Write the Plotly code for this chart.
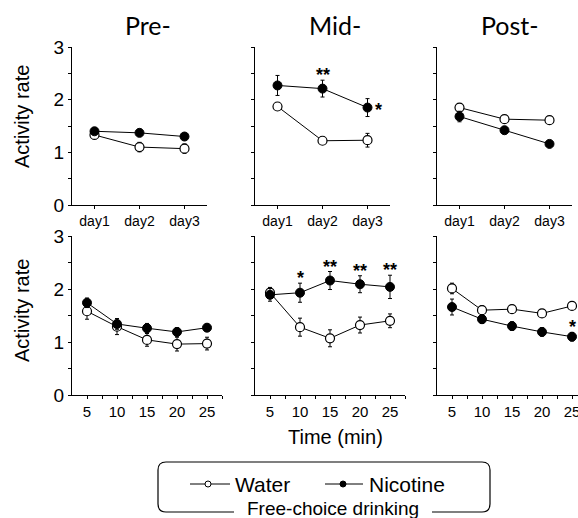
import plotly.graph_objects as go

# ---------------- data ----------------
days = ["day1", "day2", "day3"]
times = [5, 10, 15, 20, 25]

# top row (by day)
pre_day_water = [1.33, 1.10, 1.07]
pre_day_water_err = [0.08, 0.09, 0.09]
pre_day_nic = [1.40, 1.37, 1.30]
pre_day_nic_err = [0.06, 0.05, 0.05]

mid_day_water = [1.87, 1.22, 1.23]
mid_day_water_err = [0.06, 0.05, 0.13]
mid_day_nic = [2.27, 2.21, 1.85]
mid_day_nic_err = [0.19, 0.16, 0.17]

post_day_water = [1.85, 1.63, 1.61]
post_day_water_err = [0.07, 0.05, 0.05]
post_day_nic = [1.68, 1.42, 1.16]
post_day_nic_err = [0.10, 0.05, 0.05]

# bottom row (by time)
pre_time_water = [1.58, 1.29, 1.04, 0.96, 0.97]
pre_time_water_err = [0.15, 0.15, 0.12, 0.13, 0.12]
pre_time_nic = [1.74, 1.34, 1.26, 1.19, 1.27]
pre_time_nic_err = [0.09, 0.10, 0.09, 0.08, 0.07]

mid_time_water = [1.93, 1.28, 1.07, 1.32, 1.40]
mid_time_water_err = [0.10, 0.17, 0.16, 0.15, 0.13]
mid_time_nic = [1.89, 1.93, 2.16, 2.09, 2.04]
mid_time_nic_err = [0.12, 0.18, 0.17, 0.16, 0.22]

post_time_water = [2.01, 1.60, 1.62, 1.54, 1.68]
post_time_water_err = [0.10, 0.08, 0.07, 0.07, 0.07]
post_time_nic = [1.66, 1.43, 1.30, 1.19, 1.10]
post_time_nic_err = [0.15, 0.08, 0.08, 0.08, 0.08]

phase_titles = ["Pre-", "Mid-", "Post-"]
y_ticks = [0, 0.5, 1, 1.5, 2, 2.5, 3]
y_ticklabels = ["0", "", "1", "", "2", "", "3"]
x_time_ticks = [5, 7.5, 10, 12.5, 15, 17.5, 20, 22.5, 25, 27.5]
x_time_labels = ["5", "", "10", "", "15", "", "20", "", "25", ""]

# significance marks: (panel index, x, label)
sig_marks = [
    (2, "day2", "**", mid_day_nic, mid_day_nic_err, days),
    (2, "day3", "*", mid_day_nic, mid_day_nic_err, days),
    (5, 10, "*", mid_time_nic, mid_time_nic_err, times),
    (5, 15, "**", mid_time_nic, mid_time_nic_err, times),
    (5, 20, "**", mid_time_nic, mid_time_nic_err, times),
    (5, 25, "**", mid_time_nic, mid_time_nic_err, times),
    (6, 25, "*", post_time_nic, post_time_nic_err, times),
]

# ---------------- layout helpers ----------------
W, H = 578, 518
FONT = "Liberation Sans, Arial, sans-serif"


def xd(a, b):
    return [a / W, min(b / W, 1.0)]


def yd(top, bottom):
    return [1 - bottom / H, 1 - top / H]


def px(x):
    return x / W


def py(y):
    return 1 - y / H


fig = go.Figure()

panels = [
    (1, days, pre_day_water, pre_day_water_err, pre_day_nic, pre_day_nic_err),
    (2, days, mid_day_water, mid_day_water_err, mid_day_nic, mid_day_nic_err),
    (3, days, post_day_water, post_day_water_err, post_day_nic, post_day_nic_err),
    (4, times, pre_time_water, pre_time_water_err, pre_time_nic, pre_time_nic_err),
    (5, times, mid_time_water, mid_time_water_err, mid_time_nic, mid_time_nic_err),
    (6, times, post_time_water, post_time_water_err, post_time_nic, post_time_nic_err),
]

for idx, xs, w, we, n, ne in panels:
    xa = "x" if idx == 1 else f"x{idx}"
    ya = "y" if idx == 1 else f"y{idx}"
    fig.add_trace(go.Scatter(
        x=xs, y=w, xaxis=xa, yaxis=ya, mode="lines+markers", name="Water",
        showlegend=False, cliponaxis=False,
        line=dict(color="black", width=1),
        marker=dict(symbol="circle", size=9, color="white",
                    line=dict(color="black", width=1.2)),
        error_y=dict(type="data", array=we, color="black",
                     thickness=1, width=2),
    ))
    fig.add_trace(go.Scatter(
        x=xs, y=n, xaxis=xa, yaxis=ya, mode="lines+markers", name="Nicotine",
        showlegend=False, cliponaxis=False,
        line=dict(color="black", width=1),
        marker=dict(symbol="circle", size=9, color="black",
                    line=dict(color="black", width=1)),
        error_y=dict(type="data", array=ne, color="black",
                     thickness=1, width=2),
    ))

top_x = [(72, 207), (255, 390), (437, 572)]
bot_x = [(72, 222), (255, 405), (437, 578)]

axis_common = dict(showline=True, linecolor="black", linewidth=1,
                   showgrid=False, zeroline=False, ticks="outside",
                   ticklen=3, tickwidth=1, tickcolor="black", fixedrange=True,
                   automargin=False, ticklabeloverflow="allow")

layout = {}
for i in range(3):
    k = i + 1
    xname = "xaxis" if k == 1 else f"xaxis{k}"
    yname = "yaxis" if k == 1 else f"yaxis{k}"
    layout[xname] = dict(axis_common, domain=xd(*top_x[i]), anchor="y" if k == 1 else f"y{k}",
                         type="category", categoryorder="array", categoryarray=days,
                         range=[-0.5, 2.5], tickfont=dict(family=FONT, size=14, color="black"))
    layout[yname] = dict(axis_common, domain=yd(47, 205), anchor="x" if k == 1 else f"x{k}",
                         range=[0, 3], tickvals=y_ticks,
                         ticktext=y_ticklabels if k == 1 else [""] * len(y_ticks),
                         tickfont=dict(family=FONT, size=19, color="black"))
for i in range(3):
    k = i + 4
    a, b = bot_x[i]
    xr = [2.5, 2.5 + (b - a) / 6.0]
    layout[f"xaxis{k}"] = dict(axis_common, domain=xd(a, b), anchor=f"y{k}",
                               range=xr, tickvals=x_time_ticks, ticktext=x_time_labels,
                               tickfont=dict(family=FONT, size=15, color="black"))
    layout[f"yaxis{k}"] = dict(axis_common, domain=yd(236, 395), anchor=f"x{k}",
                               range=[0, 3], tickvals=y_ticks,
                               ticktext=y_ticklabels if k == 4 else [""] * len(y_ticks),
                               tickfont=dict(family=FONT, size=19, color="black"))

annotations = []
# panel titles
for t, cx in zip(phase_titles, [148, 335, 510]):
    annotations.append(dict(text=t, x=px(cx), y=py(25), xref="paper", yref="paper",
                            showarrow=False, xanchor="center", yanchor="middle",
                            font=dict(family="Lato, sans-serif", size=25, color="black")))
# y titles
for cy in [117, 311]:
    annotations.append(dict(text="Activity rate", x=px(22), y=py(cy), xref="paper", yref="paper",
                            showarrow=False, textangle=-90, xanchor="center", yanchor="middle",
                            font=dict(family=FONT, size=20, color="black")))
# x title
annotations.append(dict(text="Time (min)", x=px(335), y=py(437), xref="paper", yref="paper",
                        showarrow=False, xanchor="center", yanchor="middle",
                        font=dict(family=FONT, size=20, color="black")))

# significance stars
for panel, xv, lab, vals, errs, xs in sig_marks:
    j = xs.index(xv)
    top = vals[j] + errs[j]
    xa = "x" if panel == 1 else f"x{panel}"
    ya = "y" if panel == 1 else f"y{panel}"
    if lab == "*" and panel == 2:
        annotations.append(dict(text="<b>*</b>", x=xv, y=vals[j], xref=xa, yref=ya,
                                showarrow=False, xanchor="left", yanchor="middle",
                                xshift=5, yshift=-2,
                                font=dict(family=FONT, size=18, color="black")))
    else:
        annotations.append(dict(text=f"<b>{lab}</b>",
                                x=xv, y=top, xref=xa, yref=ya,
                                showarrow=False, xanchor="center", yanchor="bottom",
                                yshift=-7,
                                font=dict(family=FONT, size=18, color="black")))

# legend box (rounded, open at the bottom for the caption)
L, T, R, B, r = 158, 462, 490, 512, 8
gap_l, gap_r = 234, 432
path = (f"M {px(gap_l)},{py(B)} L {px(L + r)},{py(B)} "
        f"Q {px(L)},{py(B)} {px(L)},{py(B - r)} "
        f"L {px(L)},{py(T + r)} Q {px(L)},{py(T)} {px(L + r)},{py(T)} "
        f"L {px(R - r)},{py(T)} Q {px(R)},{py(T)} {px(R)},{py(T + r)} "
        f"L {px(R)},{py(B - r)} Q {px(R)},{py(B)} {px(R - r)},{py(B)} "
        f"L {px(gap_r)},{py(B)}")
shapes = [dict(type="path", path=path, xref="paper", yref="paper",
               line=dict(color="black", width=1.2))]
ly = 484
shapes.append(dict(type="line", x0=px(190), x1=px(230), y0=py(ly), y1=py(ly),
                   xref="paper", yref="paper", line=dict(color="black", width=1)))
shapes.append(dict(type="circle", x0=px(205), x1=px(211), y0=py(ly + 3), y1=py(ly - 3),
                   xref="paper", yref="paper", fillcolor="white",
                   line=dict(color="black", width=1)))
shapes.append(dict(type="line", x0=px(325), x1=px(363), y0=py(ly), y1=py(ly),
                   xref="paper", yref="paper", line=dict(color="black", width=1)))
shapes.append(dict(type="circle", x0=px(340), x1=px(346), y0=py(ly + 3), y1=py(ly - 3),
                   xref="paper", yref="paper", fillcolor="black",
                   line=dict(color="black", width=1)))

annotations.append(dict(text="Water", x=px(233), y=py(ly), xref="paper", yref="paper",
                        showarrow=False, xanchor="left", yanchor="middle",
                        font=dict(family=FONT, size=21, color="black")))
annotations.append(dict(text="Nicotine", x=px(367), y=py(ly), xref="paper", yref="paper",
                        showarrow=False, xanchor="left", yanchor="middle",
                        font=dict(family=FONT, size=21, color="black")))
annotations.append(dict(text="Free-choice drinking", x=px((gap_l + gap_r) / 2), y=py(508),
                        xref="paper", yref="paper", showarrow=False,
                        xanchor="center", yanchor="middle",
                        font=dict(family=FONT, size=19, color="black")))

fig.update_layout(
    width=W, height=H, margin=dict(l=0, r=0, t=0, b=0),
    paper_bgcolor="white", plot_bgcolor="white",
    showlegend=False, annotations=annotations, shapes=shapes,
    **layout,
)

fig.write_html(
    "out.html",
    config={"displayModeBar": False},
    post_script="document.body.style.margin='0';document.body.style.overflow='hidden';",
)
